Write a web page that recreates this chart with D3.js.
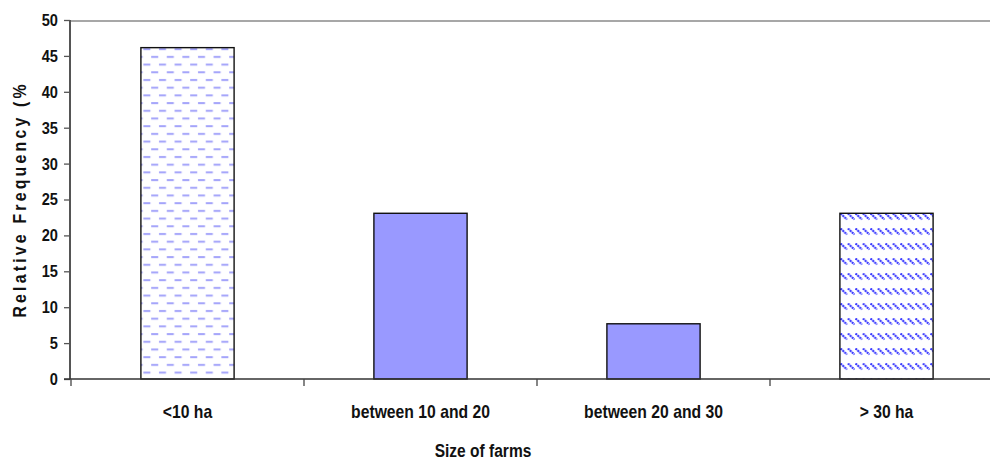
<!DOCTYPE html>
<html><head><meta charset="utf-8">
<script src="https://cdn.jsdelivr.net/npm/d3@7/dist/d3.min.js"></script>
<style>body{margin:0;background:#fff;} svg{display:block;}</style>
</head><body>
<svg id="c" width="990" height="462"></svg>
<script>
const categories = ["<10 ha", "between 10 and 20", "between 20 and 30", "> 30 ha"];
const values = [46.15, 23.08, 7.69, 23.08];
const fills = ["dash", "solid", "solid", "diag"];
const yTicks = [0, 5, 10, 15, 20, 25, 30, 35, 40, 45, 50];
const yTitle = "Relative Frequency (%";
const xTitle = "Size of farms";

const svg = d3.select("#c");
const font = "'Liberation Sans',Arial,sans-serif";
const x = d3.scaleBand().domain(categories).range([71, 1003]).padding(0);
const y = d3.scaleLinear().domain([0, 50]).range([379, 20]);

const defs = svg.append("defs");
const p1 = defs.append("pattern").attr("id","dash").attr("patternUnits","userSpaceOnUse")
  .attr("width",15.6).attr("height",15.4).attr("x", 0).attr("y", 0);
p1.append("rect").attr("width",15.6).attr("height",15.4).attr("fill","#fff");
p1.append("rect").attr("x",3).attr("y",2).attr("width",7).attr("height",2).attr("fill","#a4a4fa");
p1.append("rect").attr("x",10.8).attr("y",9.7).attr("width",7).attr("height",2).attr("fill","#a4a4fa");
p1.append("rect").attr("x",-4.8).attr("y",9.7).attr("width",7).attr("height",2).attr("fill","#a4a4fa");
const p2 = defs.append("pattern").attr("id","diag").attr("patternUnits","userSpaceOnUse")
  .attr("width",7.5).attr("height",15).attr("x",0).attr("y",3);
p2.append("rect").attr("width",7.5).attr("height",15).attr("fill","#fff");
p2.append("line").attr("x1",0.5).attr("y1",0.5).attr("x2",7).attr("y2",6.5)
  .attr("stroke","#2f2fff").attr("stroke-width",2).attr("stroke-dasharray","2,0.7");

svg.append("line").attr("x1",71).attr("x2",990).attr("y1",y(50)+1).attr("y2",y(50)+1)
  .attr("stroke","#8a8a8a").attr("stroke-width",1.5);

const bw = x.bandwidth()*0.4;
svg.selectAll("rect.bar").data(categories).enter().append("rect").attr("class","bar")
  .attr("x", d => x(d) + x.bandwidth()/2 - bw/2)
  .attr("width", bw)
  .attr("y", (d,i) => y(values[i]))
  .attr("height", (d,i) => y(0) - y(values[i]))
  .attr("fill", (d,i) => fills[i] === "solid" ? "#9999ff" : `url(#${fills[i]})`)
  .attr("stroke", "#111").attr("stroke-width", 1.4);

const gy = svg.append("g").attr("transform","translate(70,0)")
  .call(d3.axisLeft(y).tickValues(yTicks).tickSize(6).tickPadding(8));
gy.select(".domain").attr("stroke","#555").attr("stroke-width",2).attr("d","M0,20V379");
gy.selectAll(".tick line").attr("stroke","#555").attr("stroke-width",1.3);
gy.selectAll(".tick text").attr("font-family",font).attr("font-weight","bold")
  .attr("font-size",17).attr("fill","#111").attr("transform","scale(0.86,1)");

svg.append("line").attr("x1",64).attr("x2",990).attr("y1",y(0)).attr("y2",y(0))
  .attr("stroke","#333").attr("stroke-width",1.5);
const bounds = categories.map(c => x(c)).concat([x.range()[1]]);
svg.selectAll("line.xt").data(bounds).enter().append("line").attr("class","xt")
  .attr("x1",d=>d).attr("x2",d=>d).attr("y1",y(0)).attr("y2",y(0)+7)
  .attr("stroke","#444").attr("stroke-width",1.3);
svg.selectAll("text.xl").data(categories).enter().append("text").attr("class","xl")
  .attr("transform", d => `translate(${x(d)+x.bandwidth()/2},418) scale(0.85,1)`)
  .attr("text-anchor","middle").attr("font-family",font).attr("font-weight","bold")
  .attr("font-size",18.5).attr("fill","#111").text(d=>d);

svg.append("text").attr("transform","translate(483,457) scale(0.84,1)").attr("text-anchor","middle")
  .attr("font-family",font).attr("font-weight","bold").attr("font-size",18.5).attr("fill","#111")
  .text(xTitle);
svg.append("text").attr("transform","translate(26,201) rotate(-90) scale(0.88,1)").attr("text-anchor","middle")
  .attr("font-family",font).attr("font-weight","bold")
  .attr("font-size",18).attr("textLength",265).attr("lengthAdjust","spacing")
  .attr("fill","#111").text(yTitle);
</script>
</body></html>
